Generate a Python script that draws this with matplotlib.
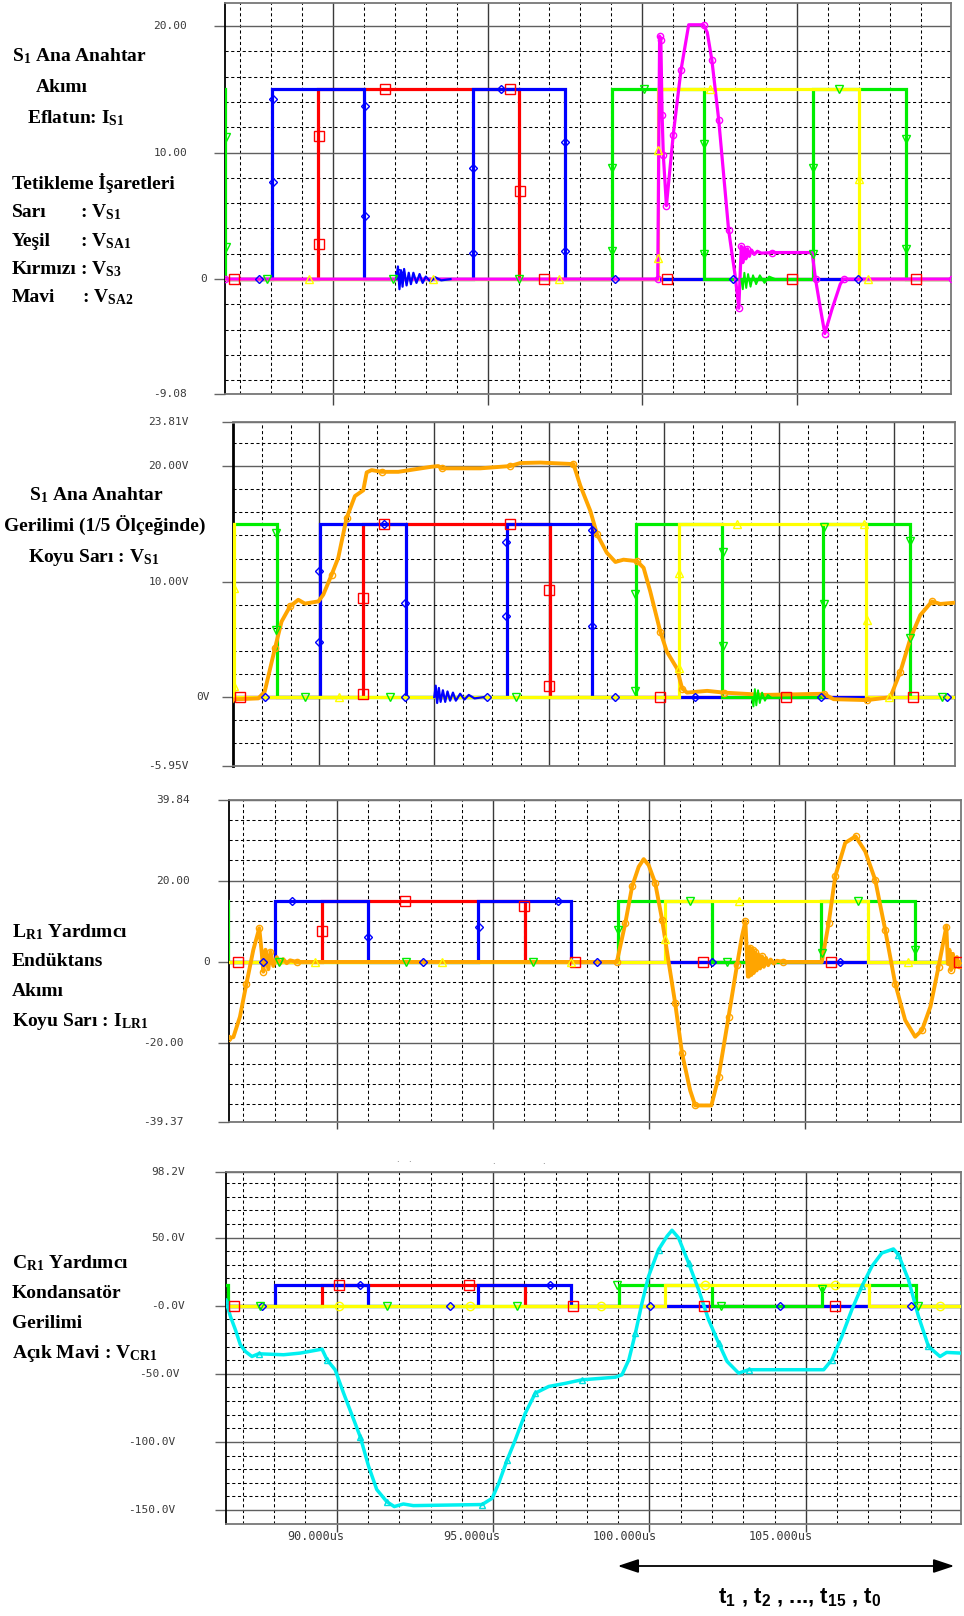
import matplotlib
matplotlib.use("Agg")
import matplotlib.pyplot as plt
import matplotlib.transforms as mtransforms
from matplotlib.patches import FancyArrowPatch

plt.rcParams['font.family'] = ['DejaVu Sans']
plt.rcParams['mathtext.default'] = 'regular'

W, H = 964, 1616
fig = plt.figure(figsize=(W / 100, H / 100), dpi=100)
fig.patch.set_facecolor('white')

# ---------------------------------------------------------------- data (time in us)
GATE_LEVEL = 15.0
green_on = [(80.0, 86.52), (99.01, 102.01), (105.52, 108.53)]
blue_on = [(88.02, 91.0), (94.52, 97.5)]
red_on = [(89.52, 96.02)]
yellow_on = [(80.0, 85.02), (100.51, 107.02)]

# panel 1 : I_S1 (magenta)
is1_t = [86.5, 100.50, 100.56, 100.60, 100.64, 100.68, 100.78, 101.0, 101.25, 101.5,
         101.98, 102.1, 102.25, 102.47, 102.79, 103.0, 103.12, 103.2, 103.25, 103.3,
         103.35, 103.4, 103.46, 103.53, 103.62, 103.72, 103.85, 104.2, 105.49, 105.6,
         105.75, 105.9, 106.13, 106.4, 106.51, 110.0]
is1_v = [0, 0, 19.2, 18.9, 13.0, 9.8, 5.8, 11.4, 16.5, 20.1,
         20.1, 19.5, 17.3, 12.6, 3.9, 0.3, -2.3, 2.6, 1.3, 2.5,
         1.6, 2.4, 1.8, 2.3, 1.95, 2.2, 2.05, 2.1, 2.1, 0.0,
         -2.2, -4.3, -2.4, -0.4, 0.0, 0.0]
p1_blue_noise_t = [92.05, 92.1, 92.15, 92.2, 92.25, 92.3, 92.38, 92.45, 92.52, 92.6,
                   92.7, 92.8, 92.9, 93.0, 93.15, 93.3, 93.5, 93.8]
p1_blue_noise_v = [0, 1.0, -0.8, 0.7, -0.6, 0.8, -0.5, 0.5, -0.4, 0.5,
                   -0.3, 0.4, -0.3, 0.2, -0.2, 0.15, -0.1, 0]
p1_green_noise_t = [103.2, 103.25, 103.3, 103.36, 103.42, 103.5, 103.58, 103.68, 103.8,
                    103.95, 104.1, 104.3]
p1_green_noise_v = [0, -0.8, 0.5, -0.7, 0.4, -0.6, 0.3, -0.4, 0.3, -0.3, 0.2, 0]

# panel 2 : V_S1 (dark yellow / orange)
vs1_t = [84.9, 85.88, 86.1, 86.46, 86.69, 86.98, 87.27, 87.5, 87.97, 88.14,
         88.43, 88.66, 88.95, 89.24, 89.53, 89.65, 89.82, 90.17, 90.75, 91.91,
         92.14, 92.26, 93.6, 94.64, 94.99, 95.69, 96.84, 97.08, 97.43, 97.66,
         98.0, 98.3, 98.58, 99.05, 99.28, 99.51, 99.86, 100.09, 100.44, 100.62,
         100.79, 101.49, 102.07, 103.46, 105.54, 105.89, 107.05, 107.86, 108.21, 108.56,
         108.9, 109.31, 109.6, 110.2]
vs1_v = [-0.2, -0.1, 0.46, 4.25, 6.55, 7.85, 8.43, 8.1, 8.29, 8.87,
         10.6, 12.06, 15.5, 17.4, 17.9, 19.45, 19.65, 19.5, 19.5, 19.94,
         20.0, 19.8, 19.8, 20.0, 20.26, 20.3, 20.17, 18.3, 16.1, 14.1,
         12.5, 11.7, 11.9, 11.77, 11.2, 9.16, 5.68, 3.94, 2.49, 0.75,
         0.4, 0.55, 0.4, 0.2, 0.3, -0.17, -0.25, 0.0, 2.2, 5.1,
         7.1, 8.29, 8.07, 8.2]
p2_blue_noise_t = [92.0, 92.05, 92.1, 92.16, 92.22, 92.3, 92.38, 92.46, 92.55, 92.65,
                   92.75, 92.9, 93.05, 93.2, 93.4, 93.7]
p2_blue_noise_v = [0, 1.0, -0.5, 0.8, -0.4, 0.6, -0.4, 0.5, -0.3, 0.4,
                   -0.3, 0.3, -0.2, 0.2, -0.1, 0]
p2_green_noise_t = [103.05, 103.1, 103.15, 103.2, 103.26, 103.32, 103.4, 103.5, 103.6, 103.7]
p2_green_noise_v = [0, -0.8, 0.7, -0.7, 0.6, -0.5, 0.4, -0.3, 0.2, 0]

# panel 3 : I_LR1 (dark yellow / orange)
ilr_t = [86.5, 86.68, 86.89, 87.1, 87.32, 87.51, 87.59, 87.64, 87.71, 87.8,
         87.87, 87.96, 88.07, 88.17, 88.28, 88.39, 88.5, 88.71, 98.97, 99.24,
         99.46, 99.67, 99.83, 99.99, 100.2, 100.42, 100.63, 100.84, 101.06, 101.32,
         101.48, 102.0, 102.23, 102.55, 102.82, 102.98, 103.09, 103.17, 103.2, 103.24,
         103.28, 103.32, 103.36, 103.4, 103.45, 103.5, 103.56, 103.62, 103.68, 103.75,
         103.82, 103.9, 104.0, 104.1, 104.3, 105.54, 105.76, 105.97, 106.29, 106.62,
         106.93, 107.25, 107.57, 107.89, 108.21, 108.53, 108.75, 109.02, 109.28, 109.53,
         109.58, 109.63, 109.68, 109.74, 109.8, 109.87, 109.93, 110.0]
ilr_v = [-18.8, -18.5, -13.5, -5.3, 3.0, 8.3, 2.2, -2.4, 3.0, -1.8,
         2.5, -1.0, 1.2, -0.5, 0.7, -0.3, 0.4, 0.0, 0.0, 9.5,
         18.6, 23.4, 25.3, 23.8, 19.4, 10.4, 0.0, -10.2, -22.5, -31.6,
         -35.3, -35.3, -28.3, -13.5, -0.8, 6.3, 10.0, -3.6, -3.6, 3.5,
         -3.2, 3.0, -2.7, 2.4, -2.1, 1.9, -1.6, 1.4, -1.2, 1.0,
         -0.8, 0.6, -0.4, 0.3, 0.0, 0.0, 9.6, 21.1, 29.3, 30.9,
         27.2, 20.2, 7.9, -5.3, -14.3, -18.4, -16.8, -11.0, -1.2, 8.7,
         -0.5, 3.0, -2.0, 2.0, -1.4, 1.2, -0.8, 0.0]

# panel 4 : V_CR1 (light blue)
vcr_t = [86.46, 86.6, 86.76, 86.92, 87.08, 87.29, 87.5, 88.3, 88.83, 89.53,
         89.69, 89.95, 90.22, 90.75, 91.02, 91.28, 91.6, 91.84, 92.13, 92.45,
         94.65, 94.97, 95.18, 95.45, 95.71, 96.03, 96.35, 96.78, 97.31, 97.84,
         98.91, 99.12, 99.34, 99.55, 99.76, 99.97, 100.29, 100.56, 100.72, 100.93,
         101.25, 101.57, 101.89, 102.21, 102.48, 102.85, 103.17, 105.57, 105.83, 106.15,
         106.47, 106.79, 107.11, 107.43, 107.8, 107.96, 108.28, 108.6, 108.92, 109.29,
         109.5, 109.96]
vcr_v = [3.2, -7.8, -17.6, -28.7, -33.6, -37.3, -35.3, -36.0, -34.8, -31.9,
         -39.7, -47.1, -64.2, -96.1, -118.0, -135.0, -143.9, -147.5, -145.6, -146.8,
         -146.0, -141.4, -130.4, -113.2, -98.5, -78.9, -64.2, -59.3, -57.0, -54.4,
         -52.5, -50.7, -39.7, -20.1, 2.0, 21.6, 41.2, 51.0, 55.4, 49.8,
         31.4, 11.8, -10.3, -27.4, -40.9, -49.5, -47.0, -47.0, -39.7, -22.5,
         -2.9, 14.2, 28.9, 38.7, 41.7, 37.5, 19.1, -7.8, -29.9, -37.3,
         -34.3, -34.8]

# probe-marker positions (time, value)
p1_red_marks = [(86.8, 0), (89.55, 11.3), (89.55, 2.75), (91.68, 15), (95.73, 15),
                (96.04, 7.0), (96.81, 0), (100.8, 0), (104.84, 0), (108.86, 0)]
p1_blue_marks = [(87.6, 0), (88.06, 14.2), (88.06, 7.7), (91.03, 13.7), (91.03, 5.0),
                 (92.13, 0.5), (94.54, 8.8), (94.54, 2.1), (95.43, 15), (97.51, 10.8),
                 (97.51, 2.2), (99.13, 0), (102.92, 0), (106.96, 0)]
p1_green_marks = [(86.54, 11.2), (86.54, 2.55), (87.86, 0), (91.95, 0), (96.0, 0),
                  (100.05, 15), (99.02, 8.75), (99.02, 2.25), (102.0, 10.7), (102.0, 2.0),
                  (106.35, 15), (105.51, 8.75), (105.51, 2.0), (108.52, 11.1), (108.52, 2.4)]
p1_yellow_marks = [(89.22, 0), (93.24, 0), (97.3, 0), (100.5, 10.2), (100.5, 1.7),
                   (102.18, 15), (107.0, 7.9), (107.3, 0)]

p2_red_marks = [(85.24, 0), (89.51, 8.6), (89.51, 0.25), (90.25, 15), (94.64, 15),
                (96.0, 9.3), (96.0, 1.0), (99.86, 0), (104.24, 0), (108.64, 0)]
p2_blue_marks = [(86.11, 0), (88.0, 10.9), (88.0, 4.75), (90.25, 15), (90.98, 8.15),
                 (90.98, 0), (93.83, 0), (94.49, 13.4), (94.49, 7.0), (97.5, 14.5),
                 (97.5, 6.2), (98.3, 0), (101.08, 0), (105.45, 0), (109.83, 0)]
p2_green_marks = [(86.51, 14.2), (86.51, 5.8), (87.5, 0), (90.46, 0), (94.85, 0),
                  (98.99, 8.9), (98.99, 0.5), (102.03, 12.6), (102.03, 4.4), (105.54, 14.7),
                  (105.54, 8.1), (108.53, 13.5), (108.53, 5.1), (109.66, 0)]
p2_yellow_marks = [(85.05, 9.45), (85.05, 1.0), (88.69, 0), (100.52, 10.75), (100.52, 2.5),
                   (102.53, 15), (107.05, 6.7), (106.93, 15), (107.8, 0)]

p3_red_marks = [(86.82, 0), (89.51, 7.7), (92.18, 15), (96.0, 13.7), (97.62, 0),
                (101.73, 0), (105.83, 0), (109.95, 0)]
p3_blue_marks = [(87.64, 0), (88.55, 15), (91.0, 6.2), (92.77, 0), (94.54, 8.7),
                 (97.1, 15), (98.33, 0), (102.02, 0), (106.13, 0)]
p3_green_marks = [(88.15, 0), (92.2, 0), (96.28, 0), (99.0, 7.9), (101.3, 15),
                  (102.5, 0), (105.54, 2.1), (106.7, 15), (108.54, 3.0)]
p3_yellow_marks = [(89.3, 0), (93.36, 0), (97.51, 0), (100.52, 5.7), (102.87, 15),
                   (108.3, 0)]

p4_red_marks = [(86.73, 0), (90.06, 15), (94.23, 15), (97.55, 0), (101.75, 0), (105.94, 0)]
p4_blue_marks = [(87.61, 0), (90.75, 15), (93.63, 0), (96.81, 15), (100.01, 0),
                 (104.18, 0), (108.36, 0)]
p4_green_marks = [(87.56, 0), (91.6, 0), (95.77, 0), (98.96, 15), (102.28, 0),
                  (105.51, 12.5), (108.6, 0)]
p4_yellow_marks = [(90.08, 0), (94.27, 0), (98.45, 0), (101.76, 15), (105.94, 15),
                   (109.29, 0)]

# tick labels
p1_ytick_vals = [20.0, 10.0, 0.0, -9.08]
p1_ytick_text = ['20.00', '10.00', '0', '-9.08']
p2_ytick_vals = [23.81, 20.0, 10.0, 0.0, -5.95]
p2_ytick_text = ['23.81V', '20.00V', '10.00V', '0V', '-5.95V']
p3_ytick_vals = [39.84, 20.0, 0.0, -20.0, -39.37]
p3_ytick_text = ['39.84', '20.00', '0', '-20.00', '-39.37']
p4_ytick_vals = [98.2, 50.0, 0.0, -50.0, -100.0, -150.0]
p4_ytick_text = ['98.2V', '50.0V', '-0.0V', '-50.0V', '-100.0V', '-150.0V']
p4_xtick_vals = [90.0, 95.0, 100.0, 105.0]
p4_xtick_text = ['90.000us', '95.000us', '100.000us', '105.000us']

RED, BLUE, GREEN, YELLOW = '#ff0000', '#0000ff', '#00ee00', '#ffff00'


# ---------------------------------------------------------------- helpers
def px_axes(x0, y0, x1, y1):
    return fig.add_axes([x0 / W, 1 - y1 / H, (x1 - x0) / W, (y1 - y0) / H])


def step_wave(intervals, level=GATE_LEVEL, t_start=80.0, t_end=115.0):
    t, v = [t_start], [0.0]
    for a, b in intervals:
        t += [a, a, b, b]
        v += [0.0, level, level, 0.0]
    t.append(t_end)
    v.append(0.0)
    return t, v


def style_axes(ax, xlim, ylim, xmaj, xmin, ymaj, ymin, left_dotted=False, xtick_len=8):
    ax.set_xlim(*xlim)
    ax.set_ylim(*ylim)
    ax.set_xticks(xmaj)
    ax.set_xticks(xmin, minor=True)
    ax.set_yticks(ymaj)
    ax.set_yticks(ymin, minor=True)
    ax.tick_params(axis='y', which='major', length=8, width=1.0, color='#666666',
                   labelleft=False, direction='out')
    ax.tick_params(axis='x', which='major', length=xtick_len, width=1.0, color='#444444',
                   labelbottom=False, direction='out')
    ax.tick_params(which='minor', length=0)
    ax.grid(which='major', axis='y', color='#5f5f5f', lw=1.0, ls='-')
    ax.grid(which='major', axis='x', color='#3a3a3a', lw=1.0, ls='-')
    ax.grid(which='minor', color='black', lw=0.75, ls=(0, (3, 2.5)))
    ax.set_axisbelow(True)
    for s in ax.spines.values():
        s.set_color('#777777')
        s.set_linewidth(1.3)
    ax.spines['left'].set_color('black')
    if left_dotted:
        ax.spines['left'].set_linestyle((0, (1, 1)))
        ax.spines['left'].set_linewidth(2.0)


def draw_gates(ax, marks, yellow_marker='^'):
    specs = [(red_on, RED, 's', 6.5, 2, marks[0]),
             (blue_on, BLUE, 'D', 4.0, 3, marks[1]),
             (green_on, GREEN, 'v', 6.0, 4, marks[2]),
             (yellow_on, YELLOW, yellow_marker, 6.0, 5, marks[3])]
    for intervals, col, mk, ms, z, mlist in specs:
        t, v = step_wave(intervals)
        ax.plot(t, v, color=col, lw=2.3, zorder=z, solid_joinstyle='miter')
        mt = [m[0] for m in mlist]
        mv = [m[1] for m in mlist]
        ax.plot(mt, mv, ls='none', marker=mk, ms=ms, mfc='none', mec=col, mew=1.0,
                zorder=8)


def ytick_text(ax, vals, texts, right_px):
    tr = mtransforms.blended_transform_factory(fig.transFigure, ax.transData)
    for v, s, xr in zip(vals, texts, right_px):
        ax.text(xr / W, v, s, transform=tr, ha='right', va='center', fontsize=8,
                family='DejaVu Sans Mono', color='#3a3a3a', clip_on=False)


SERIF = dict(family=['Liberation Serif', 'DejaVu Serif'], weight='bold', fontsize=14,
             color='black')


def label(x_px, y_px, s, ha='left'):
    fig.text(x_px / W, 1 - y_px / H, s, ha=ha, va='baseline', **SERIF)


x_major_5 = [90, 95, 100, 105]
x_minor_5 = [87, 88, 89, 91, 92, 93, 94, 96, 97, 98, 99, 101, 102, 103, 104, 106, 107, 108, 109]

# ---------------------------------------------------------------- panel 1
ax1 = px_axes(225, 3, 951, 394)
style_axes(ax1, (86.51, 109.98), (-9.08, 21.82), x_major_5, x_minor_5,
           [-9.08, 0, 10, 20], [-8, -6, -4, -2, 2, 4, 6, 8, 12, 14, 16, 18])
draw_gates(ax1, (p1_red_marks, p1_blue_marks, p1_green_marks, p1_yellow_marks))
ax1.plot(is1_t, is1_v, color='#ff00ff', lw=2.3, zorder=6, marker='o', ms=4.5, mfc='none',
         mec='#ff00ff', mew=1.0, markevery=0.07)
ax1.plot(p1_blue_noise_t, p1_blue_noise_v, color=BLUE, lw=1.6, zorder=7)
ax1.plot(p1_green_noise_t, p1_green_noise_v, color=GREEN, lw=1.4, zorder=7)
ytick_text(ax1, p1_ytick_vals, p1_ytick_text, [187, 187, 207, 187])

label(12, 61, 'S$_{1}$ Ana Anahtar')
label(36, 92, 'Akımı')
label(27, 123, 'Eflatun: I$_{S1}$')
label(12, 189, 'Tetikleme İşaretleri')
label(12, 217, 'Sarı')
label(80, 217, ': V$_{S1}$')
label(12, 246, 'Yeşil')
label(80, 246, ': V$_{SA1}$')
label(12, 274, 'Kırmızı')
label(80, 274, ': V$_{S3}$')
label(12, 302, 'Mavi')
label(82, 302, ': V$_{SA2}$')

# ---------------------------------------------------------------- panel 2
ax2 = px_axes(233, 422, 955, 766)
style_axes(ax2, (85.0, 110.11), (-5.95, 23.81), [88, 92, 96, 100, 104, 108],
           [86, 87, 89, 90, 91, 93, 94, 95, 97, 98, 99, 101, 102, 103, 105, 106, 107, 109],
           [-5.95, 0, 10, 20, 23.81], [-4, -2, 2, 4, 6, 8, 12, 14, 16, 18, 22],
           left_dotted=True, xtick_len=0)
draw_gates(ax2, (p2_red_marks, p2_blue_marks, p2_green_marks, p2_yellow_marks))
ax2.plot(vs1_t, vs1_v, color='#ffa500', lw=2.8, zorder=6, marker='o', ms=4.5, mfc='none',
         mec='#ffa500', mew=1.0, markevery=0.08)
ax2.plot(p2_blue_noise_t, p2_blue_noise_v, color=BLUE, lw=1.6, zorder=7)
ax2.plot(p2_green_noise_t, p2_green_noise_v, color=GREEN, lw=1.4, zorder=7)
ytick_text(ax2, p2_ytick_vals, p2_ytick_text, [189, 189, 189, 210, 189])

label(96, 500, 'S$_{1}$ Ana Anahtar', ha='center')
label(105, 531, 'Gerilimi (1/5 Ölçeğinde)', ha='center')
label(94, 562, 'Koyu Sarı : V$_{S1}$', ha='center')

# ---------------------------------------------------------------- panel 3
ax3 = px_axes(229, 800, 961, 1122)
style_axes(ax3, (86.54, 110.0), (-39.37, 39.84), x_major_5, x_minor_5,
           [-39.37, -20, 0, 20, 39.84],
           [-35, -30, -25, -15, -10, -5, 5, 10, 15, 25, 30, 35], xtick_len=5)
draw_gates(ax3, (p3_red_marks, p3_blue_marks, p3_green_marks, p3_yellow_marks))
ax3.plot(ilr_t, ilr_v, color='#ffa500', lw=2.8, zorder=6, marker='o', ms=4.5, mfc='none',
         mec='#ffa500', mew=1.0, markevery=0.07)
ytick_text(ax3, p3_ytick_vals, p3_ytick_text, [190, 190, 210, 184, 184])

label(12, 937, 'L$_{R1}$ Yardımcı')
label(12, 966, 'Endüktans')
label(12, 996, 'Akımı')
label(12, 1026, 'Koyu Sarı : I$_{LR1}$')

# ---------------------------------------------------------------- panel 4
ax4 = px_axes(226, 1172, 961, 1524)
style_axes(ax4, (86.46, 109.96), (-160.3, 98.2), x_major_5, x_minor_5,
           [-150, -100, -50, 0, 50, 98.2],
           [-140, -130, -120, -110, -90, -80, -70, -60, -40, -30, -20, -10,
            10, 20, 30, 40, 60, 70, 80, 90], xtick_len=6)
draw_gates(ax4, (p4_red_marks, p4_blue_marks, p4_green_marks, p4_yellow_marks),
           yellow_marker='o')
ax4.plot(vcr_t, vcr_v, color='#00f0f0', lw=2.5, zorder=6, marker='^', ms=4.5, mfc='none',
         mec='#00e0e0', mew=1.0, markevery=0.09)
ytick_text(ax4, p4_ytick_vals, p4_ytick_text, [185, 185, 185, 180, 175, 175])
trx = mtransforms.blended_transform_factory(ax4.transData, fig.transFigure)
for v, s in zip(p4_xtick_vals, p4_xtick_text):
    ax4.text(v + 0.23, 1 - 1536 / H, s, transform=trx, ha='right', va='center', fontsize=8.5,
             family='DejaVu Sans Mono', color='#3a3a3a', clip_on=False)

label(12, 1268, 'C$_{R1}$ Yardımcı')
label(12, 1298, 'Kondansatör')
label(12, 1328, 'Gerilimi')
label(12, 1358, 'Açık Mavi : V$_{CR1}$')

# small stray dots above panel 4
for xd, yd in [(397, 1160), (409, 1160), (493, 1161), (543, 1161)]:
    fig.text(xd / W, 1 - yd / H, '.', fontsize=6, color='#555555', ha='center', va='center')

# ---------------------------------------------------------------- time-interval arrow
arrow = FancyArrowPatch((615 / W, 1 - 1566 / H), (957 / W, 1 - 1566 / H),
                        transform=fig.transFigure, arrowstyle='<|-|>,head_length=0.9,head_width=0.3',
                        mutation_scale=14, color='black', lw=1.3)
fig.add_artist(arrow)
fig.text(800 / W, 1 - 1603 / H,
         't$_{1}$ , t$_{2}$ , ..., t$_{15}$ , t$_{0}$',
         ha='center', va='baseline', fontsize=16, weight='bold',
         family=['Liberation Sans', 'DejaVu Sans'], color='black')

fig.savefig('out.png', dpi=100, facecolor='white')
